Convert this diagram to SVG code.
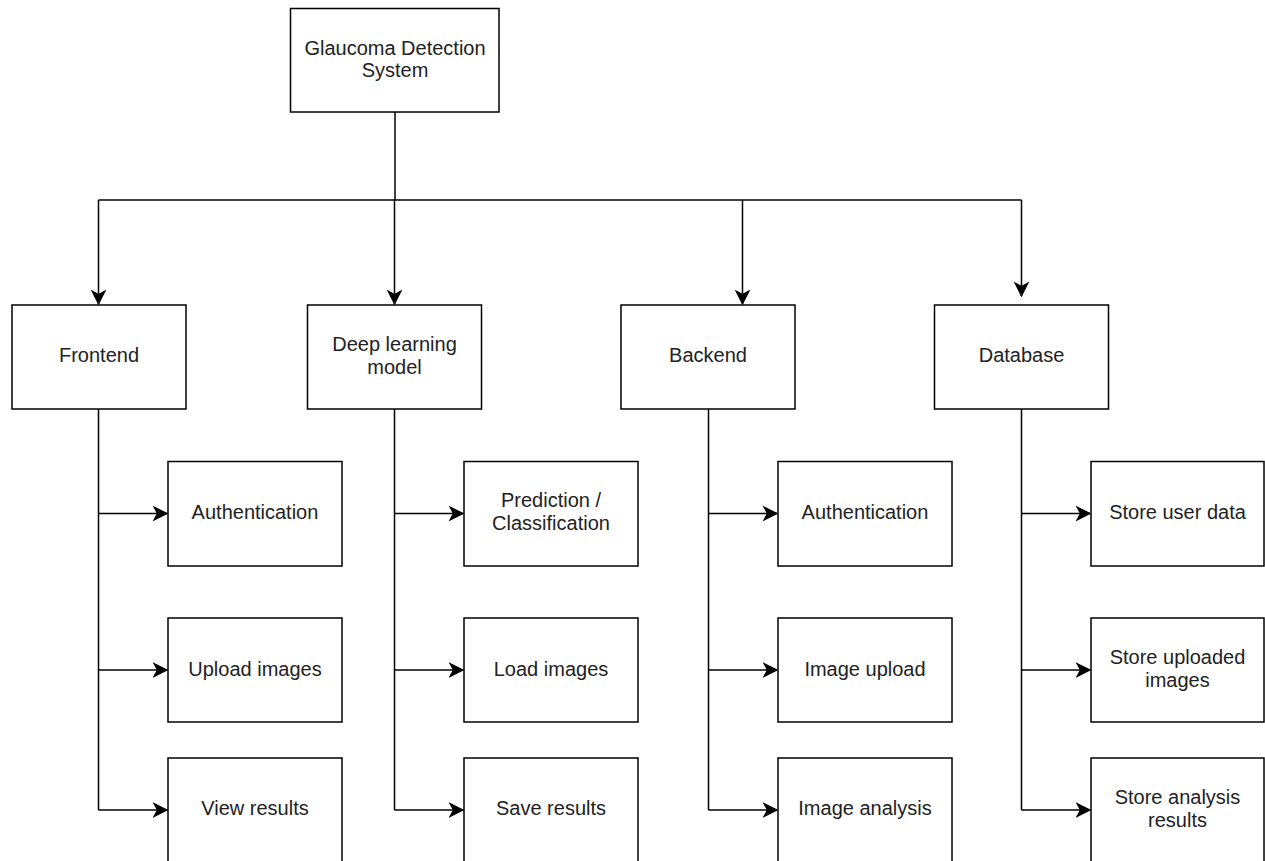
<svg xmlns="http://www.w3.org/2000/svg" width="1265" height="861" viewBox="0 0 1265 861">
<style>
.box{fill:#fff;stroke:#000;stroke-width:1.5}
.lbl{font-family:"Liberation Sans",Arial,sans-serif;font-size:20px;fill:#222;text-anchor:middle}
.con{fill:none;stroke:#000;stroke-width:1.5}
</style>
<defs>
<marker id="arr" markerUnits="userSpaceOnUse" markerWidth="16" markerHeight="16" viewBox="0 0 16 16" refX="14" refY="8" orient="auto">
<path d="M1,1.5 L14,8 L1,14.5 L4.5,8 Z" fill="#000" stroke="#000" stroke-width="1.2" stroke-linejoin="miter"/>
</marker>
</defs>
<rect width="1265" height="861" fill="#fff"/>
<g id="connectors">
<path class="con" d="M395,112 V200"/>
<path class="con" d="M98.5,200 H1021.5"/>
<path class="con" d="M98.5,200 V304" marker-end="url(#arr)"/>
<path class="con" d="M394.5,200 V304" marker-end="url(#arr)"/>
<path class="con" d="M742.5,200 V304" marker-end="url(#arr)"/>
<path class="con" d="M1021.5,200 V296" marker-end="url(#arr)"/>
<path class="con" d="M98.5,409 V810"/>
<path class="con" d="M98.5,513.5 H167" marker-end="url(#arr)"/>
<path class="con" d="M98.5,670 H167" marker-end="url(#arr)"/>
<path class="con" d="M98.5,810 H167" marker-end="url(#arr)"/>
<path class="con" d="M394.5,409 V810"/>
<path class="con" d="M394.5,513.5 H463" marker-end="url(#arr)"/>
<path class="con" d="M394.5,670 H463" marker-end="url(#arr)"/>
<path class="con" d="M394.5,810 H463" marker-end="url(#arr)"/>
<path class="con" d="M708.5,409 V810"/>
<path class="con" d="M708.5,513.5 H777" marker-end="url(#arr)"/>
<path class="con" d="M708.5,670 H777" marker-end="url(#arr)"/>
<path class="con" d="M708.5,810 H777" marker-end="url(#arr)"/>
<path class="con" d="M1021.5,409 V810"/>
<path class="con" d="M1021.5,513.5 H1090" marker-end="url(#arr)"/>
<path class="con" d="M1021.5,670 H1090" marker-end="url(#arr)"/>
<path class="con" d="M1021.5,810 H1090" marker-end="url(#arr)"/>
</g>
<g id="root"><rect class="box" x="290.5" y="8.5" width="208.5" height="103.5"/><text class="lbl" x="395" y="55">Glaucoma Detection</text><text class="lbl" x="395" y="77">System</text></g>
<g id="frontend"><rect class="box" x="12" y="305" width="174" height="104"/><text class="lbl" x="99" y="362">Frontend</text></g>
<g id="dl"><rect class="box" x="307.5" y="305" width="174" height="104"/><text class="lbl" x="394.5" y="351">Deep learning</text><text class="lbl" x="394.5" y="374">model</text></g>
<g id="backend"><rect class="box" x="621" y="305" width="174" height="104"/><text class="lbl" x="708" y="362">Backend</text></g>
<g id="database"><rect class="box" x="934.5" y="305" width="174" height="104"/><text class="lbl" x="1021.5" y="362">Database</text></g>
<g id="fe-auth"><rect class="box" x="168" y="461.5" width="174" height="104.5"/><text class="lbl" x="255" y="519">Authentication</text></g>
<g id="fe-upload"><rect class="box" x="168" y="618" width="174" height="104"/><text class="lbl" x="255" y="675.5">Upload images</text></g>
<g id="fe-view"><rect class="box" x="168" y="758" width="174" height="104"/><text class="lbl" x="255" y="815">View results</text></g>
<g id="dl-pred"><rect class="box" x="464" y="461.5" width="174" height="104.5"/><text class="lbl" x="551" y="507">Prediction /</text><text class="lbl" x="551" y="530">Classification</text></g>
<g id="dl-load"><rect class="box" x="464" y="618" width="174" height="104"/><text class="lbl" x="551" y="675.5">Load images</text></g>
<g id="dl-save"><rect class="box" x="464" y="758" width="174" height="104"/><text class="lbl" x="551" y="815">Save results</text></g>
<g id="be-auth"><rect class="box" x="778" y="461.5" width="174" height="104.5"/><text class="lbl" x="865" y="519">Authentication</text></g>
<g id="be-upload"><rect class="box" x="778" y="618" width="174" height="104"/><text class="lbl" x="865" y="675.5">Image upload</text></g>
<g id="be-analysis"><rect class="box" x="778" y="758" width="174" height="104"/><text class="lbl" x="865" y="815">Image analysis</text></g>
<g id="db-user"><rect class="box" x="1091" y="461.5" width="173" height="104.5"/><text class="lbl" x="1177.5" y="519">Store user data</text></g>
<g id="db-images"><rect class="box" x="1091" y="618" width="173" height="104"/><text class="lbl" x="1177.5" y="663.5">Store uploaded</text><text class="lbl" x="1177.5" y="686.5">images</text></g>
<g id="db-results"><rect class="box" x="1091" y="758" width="173" height="104"/><text class="lbl" x="1177.5" y="803.5">Store analysis</text><text class="lbl" x="1177.5" y="826.5">results</text></g>
</svg>
